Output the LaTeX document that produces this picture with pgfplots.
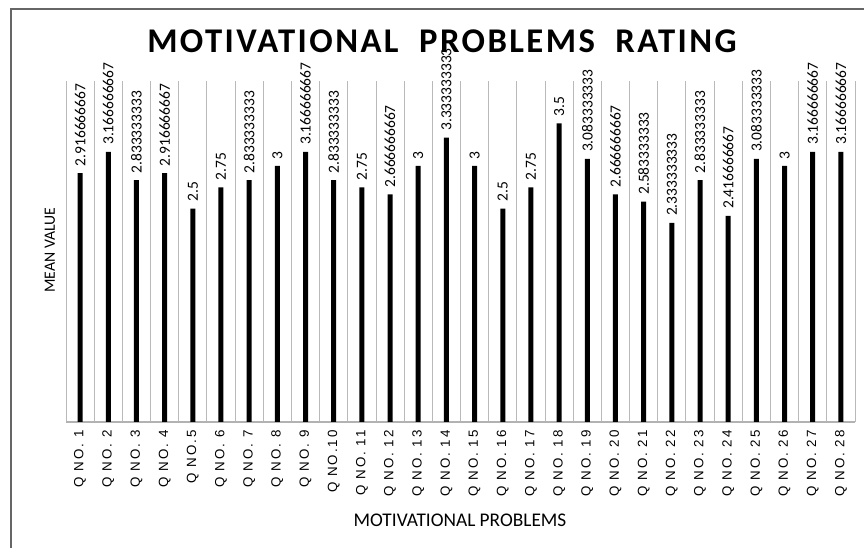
\documentclass[border=0pt]{standalone}
\usepackage{fontspec}
\setmainfont{Carlito}
\newfontfamily\tickfont[LetterSpace=15]{Liberation Sans}
\newfontfamily\titlefont[LetterSpace=7]{Carlito}
\usepackage{pgfplots}
\pgfplotsset{compat=1.18}
\usepackage{pgfplotstable}
\pgfplotstableread{
x y lab
1 2.916666667 2.916666667
2 3.166666667 3.166666667
3 2.833333333 2.833333333
4 2.916666667 2.916666667
5 2.5 2.5
6 2.75 2.75
7 2.833333333 2.833333333
8 3 3
9 3.166666667 3.166666667
10 2.833333333 2.833333333
11 2.75 2.75
12 2.666666667 2.666666667
13 3 3
14 3.333333333 3.333333333
15 3 3
16 2.5 2.5
17 2.75 2.75
18 3.5 3.5
19 3.083333333 3.083333333
20 2.666666667 2.666666667
21 2.583333333 2.583333333
22 2.333333333 2.333333333
23 2.833333333 2.833333333
24 2.416666667 2.416666667
25 3.083333333 3.083333333
26 3 3
27 3.166666667 3.166666667
28 3.166666667 3.166666667
}\datatable
\begin{document}
\begin{tikzpicture}[x=1pt,y=1pt]
\useasboundingbox (0,0) rectangle (648,411);
\draw[gray!80!black, line width=1.1pt] (8.25,-20) -- (8.25,404.25) -- (680,404.25);
\begin{axis}[
  at={(49.5pt,94.5pt)}, anchor=south west,
  scale only axis, width=591.75pt, height=256pt,
  xmin=0.5, xmax=28.5, ymin=0, ymax=4,
  axis lines*=left,
  y axis line style={draw=none},
  x axis line style={draw=gray!60, line width=0.8pt},
  ytick=\empty,
  xtick={1,...,28},
  xticklabels={Q NO. 1,Q NO. 2,Q NO. 3,Q NO. 4,Q NO.5,Q NO. 6,Q NO. 7,Q NO. 8,Q NO. 9,Q NO.10,Q NO. 11,Q NO. 12,Q NO. 13,Q NO. 14,Q NO. 15,Q NO. 16,Q NO. 17,Q NO. 18,Q NO. 19,Q NO. 20,Q NO. 21,Q NO. 22,Q NO. 23,Q NO. 24,Q NO. 25,Q NO. 26,Q NO. 27,Q NO. 28},
  major tick length=0pt,
  minor xtick={0.5,1.5,...,28.5},
  minor tick length=0pt,
  xminorgrids,
  minor grid style={gray!55, line width=0.7pt},
  xticklabel style={rotate=90, anchor=east, inner xsep=6pt, font=\tickfont\fontsize{10}{12}\selectfont},
  clip=false,
  ybar, bar width=3.75pt, bar shift=0pt,
  nodes near coords,
  point meta=explicit symbolic,
  nodes near coords style={rotate=90, anchor=west, inner xsep=5pt, inner ysep=1pt, font=\fontsize{11.6}{13}\selectfont, text=black},
]
\addplot[fill=black, draw=none] table[x=x, y=y, meta=lab] {\datatable};
\end{axis}
\node[font=\titlefont\bfseries\fontsize{26}{30}\selectfont] at (331.5,380.25) {MOTIVATIONAL\ \ PROBLEMS\ \ RATING};
\node[font=\fontsize{14.5}{17}\selectfont] at (345,21) {MOTIVATIONAL PROBLEMS};
\node[font=\fontsize{11.8}{13}\selectfont, rotate=90] at (37.5,223.5) {MEAN VALUE};
\end{tikzpicture}
\end{document}
